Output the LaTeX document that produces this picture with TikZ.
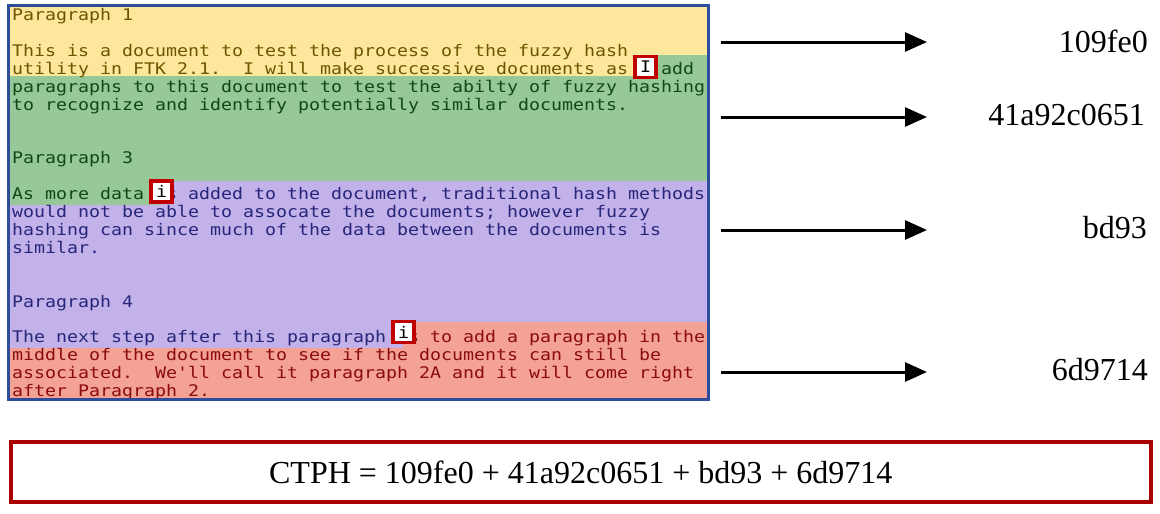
\documentclass[tikz,border=0pt]{standalone}
\usepackage{fontspec}
\usepackage{graphicx}
\setmainfont{Liberation Serif}
\newfontfamily\mono{DejaVu Sans Mono}
\usetikzlibrary{arrows.meta}
\definecolor{bgY}{HTML}{FDE79C}
\definecolor{bgG}{HTML}{97C897}
\definecolor{bgP}{HTML}{C3B1EA}
\definecolor{bgR}{HTML}{F5A296}
\definecolor{tY}{HTML}{6E5500}
\definecolor{tG}{HTML}{0F4A14}
\definecolor{tP}{HTML}{26267A}
\definecolor{tR}{HTML}{8A0C0C}
\definecolor{frameblue}{HTML}{2D4C9C}
\definecolor{boxred}{HTML}{C00000}
\definecolor{ctphred}{HTML}{A80000}
\newcommand{\ml}[1]{\scalebox{1.1419}[1]{#1}}
\frenchspacing
\tikzset{
  ln/.style={anchor=base west, inner sep=0pt, font=\mono\fontsize{16}{18}\selectfont},
  hl/.style={draw=boxred, line width=3.5pt, fill=white, inner sep=0pt,
             minimum width=21pt, minimum height=21pt, text=black,
             font=\mono\fontsize{16}{18}\selectfont},
  docframe/.style={draw=frameblue, line width=3pt, inner sep=0pt,
             minimum width=700pt, minimum height=394pt},
  hash/.style={anchor=base east, inner sep=0pt, font=\fontsize{32}{36}\selectfont},
  arr/.style={line width=3pt, -{Triangle[length=22pt,width=19pt]}},
  ctphbox/.style={draw=ctphred, line width=4pt, inner sep=0pt,
             minimum width=1140.5pt, minimum height=60pt,
             font=\fontsize{32}{36}\selectfont}
}
\begin{document}
\begin{tikzpicture}[x=1pt,y=-1pt]
\useasboundingbox[fill=white] (0,0) rectangle (1160,514);
% coloured regions
\fill[bgY] (10,6) -- (707,6) -- (707,55) -- (635,55) -- (635,76) -- (10,76) -- cycle;
\fill[bgG] (10,76) -- (635,76) -- (635,55) -- (707,55) -- (707,181) -- (161,181) -- (161,205) -- (10,205) -- cycle;
\fill[bgP] (10,205) -- (161,205) -- (161,181) -- (707,181) -- (707,322) -- (403,322) -- (403,348) -- (10,348) -- cycle;
\fill[bgR] (10,348) -- (403,348) -- (403,322) -- (707,322) -- (707,398) -- (10,398) -- cycle;
% text
\begin{scope}
\clip (10,6) rectangle (707,398);
\node[ln,text=tY] (l0) at (12,20.7) {\ml{Paragraph 1}};
\node[ln,text=tY] (l2) at (12,56.5) {\ml{This is a document to test the process of the fuzzy hash}};
\node[ln] (l3) at (12,74.4) {\ml{{\color{tY}utility in FTK 2.1.\ \ I will make successive documents as }{\color{tG}\ \ add}}};
\node[ln,text=tG] (l4) at (12,92.3) {\ml{paragraphs to this document to test the abilty of fuzzy hashing}};
\node[ln,text=tG] (l5) at (12,110.2) {\ml{to recognize and identify potentially similar documents.}};
\node[ln,text=tG] (l8) at (12,163.9) {\ml{Paragraph 3}};
\node[ln] (l10) at (12,199.7) {\ml{{\color{tG}As more data }{\color{tP}\ s added to the document, traditional hash methods}}};
\node[ln,text=tP] (l11) at (12,217.6) {\ml{would not be able to assocate the documents; however fuzzy}};
\node[ln,text=tP] (l12) at (12,235.5) {\ml{hashing can since much of the data between the documents is}};
\node[ln,text=tP] (l13) at (12,253.4) {\ml{similar.}};
\node[ln,text=tP] (l16) at (12,307.1) {\ml{Paragraph 4}};
\node[ln] (l18) at (12,342.9) {\ml{{\color{tP}The next step after this paragraph }{\color{tR}\ s to add a paragraph in the}}};
\node[ln,text=tR] (l19) at (12,360.8) {\ml{middle of the document to see if the documents can still be}};
\node[ln,text=tR] (l20) at (12,378.7) {\ml{associated.\ \ We'll call it paragraph 2A and it will come right}};
\node[ln,text=tR] (l21) at (12,396.6) {\ml{after Paragraph 2.}};
\end{scope}
% highlighted letters
\node[hl] (k1) at (645.5,67) {\ml{I}};
\node[hl] (k2) at (161.5,191.5) {\ml{i}};
\node[hl] (k3) at (403.5,332) {\ml{i}};
% document frame
\node[docframe] (doc) at (358.5,202.5) {};
% hash labels
\node[hash] (h1) at (1148,52) {109fe0};
\node[hash] (h2) at (1145,125) {41a92c0651};
\node[hash] (h3) at (1147,238) {bd93};
\node[hash] (h4) at (1148,380) {6d9714};
% arrows
\coordinate (e1) at (927,42);
\coordinate (e2) at (927,117);
\coordinate (e3) at (927,230);
\coordinate (e4) at (927,372);
\draw[arr] ([xshift=11pt]doc.east |- e1) -- (e1);
\draw[arr] ([xshift=11pt]doc.east |- e2) -- (e2);
\draw[arr] ([xshift=11pt]doc.east |- e3) -- (e3);
\draw[arr] ([xshift=11pt]doc.east |- e4) -- (e4);
% CTPH box
\node[ctphbox] (ctph) at (580.75,472) {CTPH = 109fe0 + 41a92c0651 + bd93 + 6d9714};
\end{tikzpicture}
\end{document}
